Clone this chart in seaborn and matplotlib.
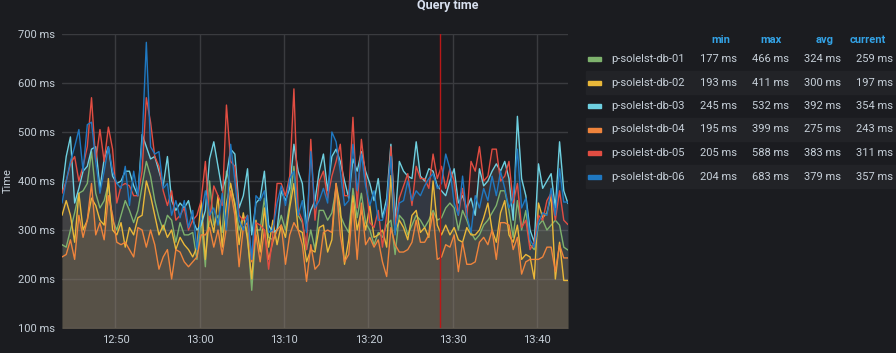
"""
Query time panel (Grafana style) redrawn with seaborn.
"""
import matplotlib
matplotlib.use('Agg')
import matplotlib.pyplot as plt
import matplotlib.dates as mdates
from matplotlib.patches import Rectangle
from matplotlib.ticker import FuncFormatter
import seaborn as sns
import pandas as pd

BG = '#1b1c20'
ROW_BG = '#222327'
TEXT = '#c7d0d9'
HEAD = '#33a2e5'
GRID = '#3a3b3f'

W, H = 896, 353

SERIES = ['p-solelst-db-01', 'p-solelst-db-02', 'p-solelst-db-03',
          'p-solelst-db-04', 'p-solelst-db-05', 'p-solelst-db-06']
COLORS = ['#7eb26d', '#eab839', '#6ed0e0', '#ef843c', '#e24d42', '#1f78c1']

START = '2021-03-01 12:43:40'
END = '2021-03-01 13:43:40'
ANNOTATION = '2021-03-01 13:28:30'
STEP = '30s'

# values in ms, one point every 30 s
db01 = [270, 265, 300, 335, 375, 380, 395, 460, 375, 345, 360, 395, 320, 300, 330, 360,
        340, 315, 340, 390, 440, 410, 360, 325, 300, 330, 320, 275, 315, 290, 290,
        295, 240, 320, 225, 400, 310, 330, 295, 420, 390, 355, 300, 330, 290, 177,
        300, 300, 365, 285, 280, 300, 330, 300, 355, 430, 330, 315, 260, 300, 260,
        340, 340, 320, 335, 385, 330, 310, 295, 385, 325, 375, 315, 300, 270, 295,
        285, 310, 320, 250, 330, 320, 290, 310, 330, 320, 305, 320, 340, 320,
        325, 345, 355, 345, 300, 340, 320, 295, 280, 290, 310, 320, 335, 350, 380,
        380, 340, 285, 360, 300, 340, 270, 260, 310, 320, 300, 310, 320, 310, 265, 259]
db02 = [330, 360, 330, 275, 375, 300, 320, 365, 350, 320, 310, 405, 300, 290, 315, 265,
        305, 290, 325, 330, 400, 370, 330, 290, 310, 285, 300, 260, 285, 270, 260,
        245, 265, 360, 240, 330, 295, 370, 265, 355, 395, 350, 270, 335, 280, 200,
        320, 255, 345, 265, 320, 270, 310, 285, 345, 395, 300, 295, 235, 260, 255,
        305, 310, 255, 280, 395, 345, 230, 280, 370, 300, 340, 300, 350, 285, 290,
        300, 265, 411, 295, 320, 305, 280, 330, 340, 295, 305, 285, 400, 310,
        290, 310, 290, 305, 280, 275, 305, 290, 290, 300, 325, 355, 300, 275, 335,
        360, 290, 275, 310, 240, 250, 245, 200, 355, 325, 335, 370, 200, 275, 197, 197]
db03 = [380, 450, 490, 355, 385, 420, 430, 465, 470, 385, 445, 470, 410, 395, 400, 420,
        420, 390, 370, 495, 470, 445, 450, 420, 390, 450, 360, 340, 355, 345, 360,
        320, 300, 310, 340, 445, 480, 430, 380, 410, 465, 455, 345, 370, 425, 290,
        355, 365, 420, 310, 295, 300, 380, 360, 385, 475, 420, 395, 310, 340, 360,
        420, 455, 380, 450, 465, 440, 400, 365, 445, 420, 460, 420, 395, 360, 405,
        325, 365, 475, 320, 440, 420, 410, 405, 480, 410, 400, 425, 420, 390,
        380, 370, 400, 425, 355, 370, 345, 365, 330, 425, 390, 400, 420, 435, 420,
        440, 405, 320, 532, 405, 370, 300, 275, 435, 385, 400, 415, 345, 480, 380, 354]
db04 = [245, 250, 280, 240, 330, 285, 320, 395, 290, 315, 280, 370, 330, 275, 270, 275,
        260, 245, 305, 300, 265, 300, 270, 220, 245, 260, 200, 260, 255, 235, 225,
        235, 245, 290, 290, 305, 265, 300, 250, 305, 380, 330, 225, 305, 315, 235,
        290, 235, 300, 240, 275, 300, 310, 230, 290, 315, 300, 270, 195, 270, 220,
        230, 295, 300, 295, 395, 290, 235, 250, 355, 240, 355, 270, 285, 265, 280,
        235, 205, 305, 270, 255, 255, 260, 275, 320, 275, 275, 290, 335, 240,
        245, 270, 265, 290, 215, 275, 230, 230, 235, 275, 285, 270, 300, 240, 315,
        315, 310, 260, 285, 210, 235, 240, 240, 240, 245, 265, 265, 215, 270, 243, 243]
db05 = [375, 400, 435, 450, 400, 430, 470, 570, 440, 505, 440, 510, 465, 355, 390, 395,
        390, 370, 370, 420, 570, 520, 450, 430, 380, 350, 380, 320, 330, 345, 300,
        320, 330, 360, 440, 320, 390, 370, 350, 555, 440, 430, 330, 320, 330, 240,
        315, 310, 300, 220, 290, 395, 395, 370, 410, 588, 340, 320, 260, 485, 320,
        400, 420, 365, 410, 440, 475, 370, 370, 530, 345, 485, 410, 315, 305, 340,
        265, 330, 470, 310, 365, 390, 415, 350, 430, 405, 405, 385, 455, 405,
        430, 385, 425, 400, 330, 385, 325, 440, 420, 470, 400, 410, 465, 465, 400,
        410, 440, 355, 395, 305, 320, 260, 275, 330, 320, 360, 375, 320, 380, 320, 311]
db06 = [355, 400, 440, 470, 505, 420, 515, 520, 440, 375, 420, 470, 420, 395, 385, 430,
        350, 420, 370, 480, 683, 470, 455, 460, 385, 395, 330, 360, 325, 360, 305,
        340, 260, 330, 380, 330, 345, 310, 375, 300, 475, 400, 320, 300, 330, 240,
        370, 360, 380, 295, 300, 355, 390, 350, 405, 420, 330, 360, 295, 460, 345,
        360, 385, 355, 500, 480, 420, 350, 360, 475, 380, 455, 390, 350, 380, 320,
        320, 350, 450, 290, 355, 360, 400, 360, 380, 370, 390, 405, 415, 385,
        395, 455, 425, 355, 330, 410, 330, 295, 370, 345, 385, 360, 410, 370, 420,
        385, 345, 365, 465, 345, 365, 280, 265, 315, 335, 330, 385, 330, 425, 357, 357]

# legend table
stat_min = [177, 193, 245, 195, 205, 204]
stat_max = [466, 411, 532, 399, 588, 683]
stat_avg = [324, 300, 392, 275, 383, 379]
stat_cur = [259, 197, 354, 243, 311, 357]

Y_TICKS = [100, 200, 300, 400, 500, 600, 700]

values = [db01, db02, db03, db04, db05, db06]
times = pd.date_range(START, periods=len(db01), freq=STEP)

frames = []
for name, vals in zip(SERIES, values):
    frames.append(pd.DataFrame({'time': times, 'value': vals, 'series': name}))
df = pd.concat(frames, ignore_index=True)

sns.set_theme(style='dark', rc={
    'axes.facecolor': BG,
    'figure.facecolor': BG,
    'text.color': TEXT,
    'axes.labelcolor': TEXT,
    'xtick.color': TEXT,
    'ytick.color': TEXT,
})
plt.rcParams['font.family'] = ['Roboto', 'DejaVu Sans']


def px(x):
    return x / W


def py(y):
    return 1 - y / H


fig = plt.figure(figsize=(W / 100, H / 100), dpi=100)
ax = fig.add_axes([px(62), py(328), px(568 - 62), (328 - 34) / H])
ax.set_facecolor(BG)

for name, color in zip(SERIES, COLORS):
    d = df[df['series'] == name]
    ax.fill_between(d['time'], d['value'], 0, color=color, alpha=0.1,
                    linewidth=0, zorder=1)

sns.lineplot(data=df, x='time', y='value', hue='series', palette=COLORS,
             hue_order=SERIES, linewidth=1, legend=False, estimator=None,
             ax=ax, zorder=2)

# annotation marker
ax.axvline(pd.Timestamp(ANNOTATION), color='#b81818', linewidth=1, zorder=3)

ax.set_xlim(pd.Timestamp(START), pd.Timestamp(END))
ax.set_ylim(Y_TICKS[0], Y_TICKS[-1])
ax.set_yticks(Y_TICKS)
ax.yaxis.set_major_formatter(FuncFormatter(lambda v, p: f'{v:.0f} ms'))
ax.xaxis.set_major_locator(mdates.MinuteLocator(byminute=[0, 10, 20, 30, 40, 50]))
ax.xaxis.set_major_formatter(mdates.DateFormatter('%H:%M'))
ax.tick_params(axis='both', length=0, labelsize=8, colors=TEXT)
ax.tick_params(axis='y', pad=5)
ax.tick_params(axis='x', pad=5)
ax.grid(True, color=GRID, linewidth=1, zorder=0)
ax.set_axisbelow(True)
for spine in ax.spines.values():
    spine.set_visible(False)
ax.set_xlabel('')
ax.set_ylabel('')
fig.text(px(8), py(181), 'Time', rotation=90, ha='center', va='center',
         fontsize=8, color=TEXT)

fig.text(px(448), py(6), 'Query time', ha='center', va='center',
         fontsize=9, fontweight='bold', color='#d8e0ef')

# legend as a table on the right
row_y = [59, 82.5, 106, 129.5, 153, 176.5]
col_right = [737, 789, 841, 893]
heads = ['min', 'max', 'avg', 'current']
for x, h in zip(col_right, heads):
    fig.text(px(x - 7), py(40), h, ha='right', va='center', fontsize=8,
             fontweight='bold', color=HEAD)

for i, (name, color) in enumerate(zip(SERIES, COLORS)):
    y = row_y[i]
    if i % 2 == 1:
        fig.patches.append(Rectangle((px(586), py(y + 11.5)), px(W - 586), 23 / H,
                                     transform=fig.transFigure, color=ROW_BG,
                                     zorder=0))
    fig.patches.append(Rectangle((px(588), py(y + 2)), px(13), 4 / H,
                                 transform=fig.transFigure, color=color, zorder=1))
    fig.text(px(611), py(y), name, ha='left', va='center', fontsize=8, color=TEXT)
    stats = [stat_min[i], stat_max[i], stat_avg[i], stat_cur[i]]
    for x, v in zip(col_right, stats):
        fig.text(px(x), py(y), f'{v} ms', ha='right', va='center', fontsize=8,
                 color=TEXT)

plt.savefig('out.png', dpi=100, facecolor=BG)
plt.close()
